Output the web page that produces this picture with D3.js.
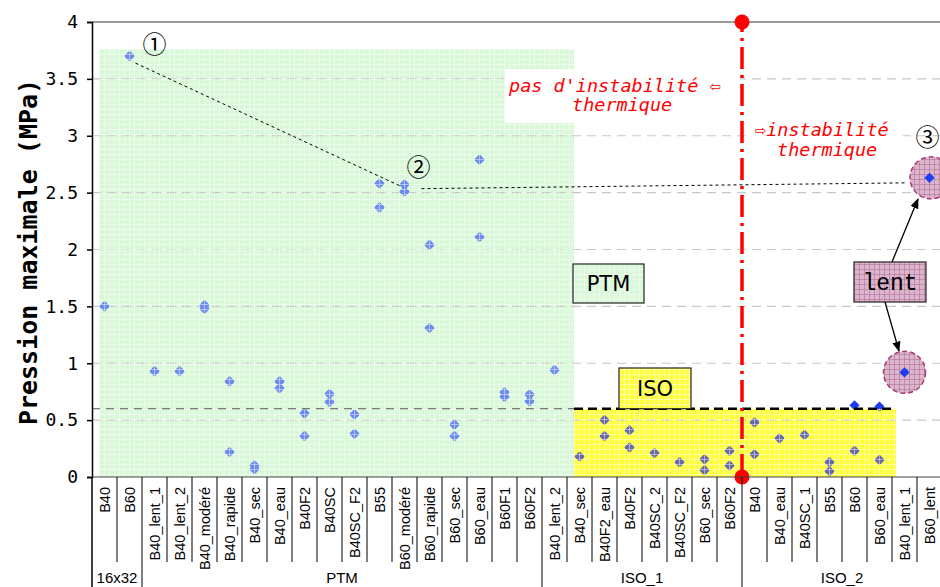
<!DOCTYPE html>
<html>
<head>
<meta charset="utf-8">
<script src="https://cdn.jsdelivr.net/npm/d3@7"></script>
<style>
  body { margin: 0; background: #fff; }
  svg { display: block; }
</style>
</head>
<body>
<div id="chart"></div>
<script>
// categories along the x axis (one column each)
const categories = [
  'B40', 'B60',
  'B40_lent_1', 'B40_lent_2', 'B40_modéré', 'B40_rapide', 'B40_sec', 'B40_eau',
  'B40F2', 'B40SC', 'B40SC_F2', 'B55', 'B60_modéré', 'B60_rapide', 'B60_sec',
  'B60_eau', 'B60F1', 'B60F2',
  'B40_lent_2', 'B40_sec', 'B40F2_eau', 'B40F2', 'B40SC_2', 'B40SC_F2', 'B60_sec', 'B60F2',
  'B40', 'B40_eau', 'B40SC_1', 'B55', 'B60', 'B60_eau', 'B40_lent_1', 'B60_lent'
]
const groupNames = ['16x32', 'PTM', 'ISO_1', 'ISO_2']
const groupSizes = [2, 16, 8, 8]

// maximal pressure (MPa), first and second test of each column
const pressureA = [
  1.50, 3.70,
  0.93, 0.93, 1.51, 0.84, 0.10, 0.84, 0.56, 0.73, 0.55, 2.58, 2.57, 2.04, 0.46, 2.79, 0.745, 0.725,
  0.94, 0.18, 0.50, 0.41, 0.21, 0.13, 0.155, 0.23,
  0.48, 0.34, 0.37, 0.13, 0.63, 0.62, 0.92, 2.63
]
const pressureB = [
  null, null,
  null, null, 1.48, 0.22, 0.07, 0.78, 0.36, 0.66, 0.38, 2.37, 2.51, 1.31, 0.36, 2.11, 0.705, 0.665,
  null, null, 0.36, 0.26, null, null, 0.06, 0.10,
  0.20, null, null, 0.05, 0.23, 0.15, null, null
]

const yTicks = [0, 0.5, 1, 1.5, 2, 2.5, 3, 3.5, 4]
const isoLimit = 0.6
const circled = [32, 33] // columns marked "lent"

const width = 940
const height = 587
const plot = { left: 92, right: 942, top: 22, bottom: 477 }

const svg = d3.select('#chart')
  .append('svg')
  .attr('width', width)
  .attr('height', height)

const x = d3.scaleBand()
  .domain(d3.range(categories.length))
  .range([plot.left, plot.right])
const y = d3.scaleLinear().domain([0, 4]).range([plot.bottom, plot.top])
const xc = (i) => x(i) + x.bandwidth() / 2

const points = []
categories.forEach((c, i) => {
  if (pressureA[i] !== null) points.push({ i, v: pressureA[i] })
  if (pressureB[i] !== null) points.push({ i, v: pressureB[i] })
})

// zones
const green = { x0: plot.left + 7, x1: x(19) + 7, y0: y(3.76), y1: y(0) }
const yellow = { x0: x(19) + 7, x1: x(32) + 4, y0: y(isoLimit), y1: y(0) }

const defs = svg.append('defs')
const gridPattern = (id, bg, line, op) => {
  const p = defs.append('pattern')
    .attr('id', id)
    .attr('width', 5)
    .attr('height', 5)
    .attr('patternUnits', 'userSpaceOnUse')
  if (bg) p.append('rect').attr('width', 5).attr('height', 5).attr('fill', bg)
  p.append('path')
    .attr('d', 'M4.5 0V5M0 4.5H5')
    .attr('stroke', line)
    .attr('stroke-opacity', op)
    .attr('fill', 'none')
}
gridPattern('gridWhite', null, '#fff', 0.45)
gridPattern('gridGreen', '#d8f8d8', '#fff', 0.45)
gridPattern('gridYellow', '#ffff3a', '#fff', 0.5)
gridPattern('gridPink', '#dcb4cc', '#a86890', 0.5)

const clip = (id, r) => defs.append('clipPath').attr('id', id)
  .append('rect')
  .attr('x', r.x0).attr('y', r.y0)
  .attr('width', r.x1 - r.x0).attr('height', r.y1 - r.y0)
clip('clipGreen', green)
clip('clipYellow', yellow)

defs.append('marker')
  .attr('id', 'arrow')
  .attr('viewBox', '0 0 10 10')
  .attr('refX', 9).attr('refY', 5)
  .attr('markerWidth', 8).attr('markerHeight', 8)
  .attr('orient', 'auto')
  .append('path')
  .attr('d', 'M0 1L10 5L0 9z')
  .attr('fill', '#000')

const zone = (r, fill) => svg.append('rect')
  .attr('x', r.x0).attr('y', r.y0)
  .attr('width', r.x1 - r.x0).attr('height', r.y1 - r.y0)
  .attr('fill', fill)
zone(green, '#d8f8d8')
zone(yellow, '#ffff3a')

// horizontal grid lines
svg.append('g')
  .selectAll('line')
  .data(yTicks.filter((d) => d > 0 && d < 4))
  .enter()
  .append('line')
  .attr('x1', plot.left).attr('x2', width)
  .attr('y1', (d) => y(d)).attr('y2', (d) => y(d))
  .attr('stroke', '#c8c8c8')
  .attr('stroke-width', 1.2)
  .attr('stroke-dasharray', '9,6')

svg.append('line')
  .attr('x1', plot.left).attr('x2', width)
  .attr('y1', y(4)).attr('y2', y(4))
  .attr('stroke', '#999')
  .attr('stroke-width', 2)

// white boxes behind the red notes
svg.append('rect').attr('x', 505).attr('y', 69).attr('width', 235).attr('height', 54).attr('fill', '#fff')
svg.append('rect').attr('x', 750).attr('y', 120).attr('width', 153).attr('height', 42).attr('fill', '#fff')

// pink circles around the slow tests
svg.append('g')
  .selectAll('circle')
  .data(circled)
  .enter()
  .append('circle')
  .attr('cx', (i) => xc(i) + (i === 33 ? 1.5 : 0))
  .attr('cy', (i) => y(pressureA[i]))
  .attr('r', 21)
  .attr('fill', 'url(#gridPink)')
  .attr('stroke', '#a83c74')
  .attr('stroke-width', 1.5)
  .attr('stroke-dasharray', '5,3')

// points: plain, then tinted inside each zone
const diamond = d3.symbol(d3.symbolSquare, 52)
const drawPoints = (fill, clipId) => {
  const g = svg.append('g')
  if (clipId) g.attr('clip-path', `url(#${clipId})`)
  g.selectAll('path')
    .data(points)
    .enter()
    .append('path')
    .attr('d', diamond)
    .attr('transform', (d) => `translate(${xc(d.i)},${y(d.v)}) rotate(45)`)
    .attr('fill', fill)
}
drawPoints('#1e3cf2', null)
drawPoints('#6c8cf0', 'clipGreen')
drawPoints('#6a6aa8', 'clipYellow')

// grid texture on top of the zones
zone(green, 'url(#gridWhite)')
zone(yellow, 'url(#gridWhite)')

// ISO limit line
svg.append('line')
  .attr('x1', plot.left).attr('x2', green.x1)
  .attr('y1', y(isoLimit)).attr('y2', y(isoLimit))
  .attr('stroke', '#555')
  .attr('stroke-width', 1.2)
  .attr('stroke-dasharray', '8,6')
svg.append('line')
  .attr('x1', yellow.x0).attr('x2', x(32))
  .attr('y1', y(isoLimit)).attr('y2', y(isoLimit))
  .attr('stroke', '#000')
  .attr('stroke-width', 2.5)
  .attr('stroke-dasharray', '9,5')

// red limit (thermal instability)
const redX = x(26)
svg.append('line')
  .attr('x1', redX).attr('x2', redX)
  .attr('y1', y(4)).attr('y2', y(0))
  .attr('stroke', '#ff0000')
  .attr('stroke-width', 3.5)
  .attr('stroke-dasharray', '22,6,3,6')
  .attr('stroke-dashoffset', 12)
svg.append('g')
  .selectAll('circle')
  .data([4, 0])
  .enter()
  .append('circle')
  .attr('cx', redX)
  .attr('cy', (d) => y(d))
  .attr('r', 7.5)
  .attr('fill', '#ff0000')

// y axis
const yAxis = svg.append('g')
  .attr('transform', `translate(${plot.left},0)`)
  .call(d3.axisLeft(y).tickValues(yTicks).tickSize(5).tickPadding(9).tickFormat((d) => String(d)))
yAxis.select('.domain').attr('stroke', '#000').attr('stroke-width', 1.5)
yAxis.selectAll('.tick line').attr('stroke', '#000').attr('stroke-width', 1.5)
yAxis.selectAll('.tick text')
  .attr('font-family', 'DejaVu Sans Mono')
  .attr('font-size', 18)
  .attr('fill', '#000')

svg.append('text')
  .attr('transform', 'translate(37,252) rotate(-90)')
  .attr('text-anchor', 'middle')
  .attr('font-family', 'DejaVu Sans Mono')
  .attr('font-weight', 'bold')
  .attr('font-size', 25)
  .text('Pression maximale (MPa)')

// category table under the plot
svg.append('line')
  .attr('x1', plot.left).attr('x2', width)
  .attr('y1', plot.bottom).attr('y2', plot.bottom)
  .attr('stroke', '#444')
  .attr('stroke-width', 1)

const groupStarts = groupSizes.map((s, k) => d3.sum(groupSizes.slice(0, k)))
svg.append('g')
  .selectAll('line')
  .data(d3.range(1, categories.length))
  .enter()
  .append('line')
  .attr('x1', (i) => x(i)).attr('x2', (i) => x(i))
  .attr('y1', plot.bottom)
  .attr('y2', (i) => groupStarts.includes(i) ? height : 562)
  .attr('stroke', '#000')
  .attr('stroke-width', 1)
svg.append('line')
  .attr('x1', plot.left).attr('x2', plot.left)
  .attr('y1', plot.bottom).attr('y2', height)
  .attr('stroke', '#000')
  .attr('stroke-width', 1.5)

svg.append('g')
  .selectAll('text')
  .data(categories)
  .enter()
  .append('text')
  .attr('transform', (d, i) => `translate(${xc(i) + 5.5},487) rotate(-90)`)
  .attr('text-anchor', 'end')
  .attr('font-family', 'Liberation Sans, Arial')
  .attr('font-size', 14.5)
  .text((d) => d)

svg.append('g')
  .selectAll('text')
  .data(groupNames)
  .enter()
  .append('text')
  .attr('x', (d, k) => x(groupStarts[k]) + groupSizes[k] * x.bandwidth() / 2)
  .attr('y', 583)
  .attr('text-anchor', 'middle')
  .attr('font-family', 'Liberation Sans, Arial')
  .attr('font-size', 15)
  .text((d) => d)

// connectors between the marked tests
const connector = (x1, y1, x2, y2) => svg.append('line')
  .attr('x1', x1).attr('y1', y1).attr('x2', x2).attr('y2', y2)
  .attr('stroke', '#000')
  .attr('stroke-width', 1)
  .attr('stroke-dasharray', '3,3')
connector(xc(1) + 6, y(pressureA[1]) + 7, xc(12) - 5, y(pressureA[12]) + 1)
connector(xc(12) + 17, y(pressureA[12]) + 4, xc(33) - 23, y(pressureA[33]) + 5)

const mark = (t, cx, cy) => svg.append('text')
  .attr('x', cx).attr('y', cy)
  .attr('text-anchor', 'middle')
  .attr('font-family', 'Noto Sans CJK JP, DejaVu Sans')
  .attr('font-size', 24)
  .text(t)
mark('①', xc(2), 53)
mark('②', xc(12) + 14, 176)
mark('③', xc(33) - 2, 146)

// red notes
const note = (t, tx, ty) => svg.append('text')
  .attr('x', tx).attr('y', ty)
  .attr('font-family', 'DejaVu Sans Mono')
  .attr('font-style', 'italic')
  .attr('font-size', 18.5)
  .attr('fill', '#ff0000')
  .text(t)
note("pas d'instabilité ⇦", 509, 92)
note('thermique', 572, 111)
note('⇨instabilité', 755, 136)
note('thermique', 777, 156)

// label boxes
const labelBox = (t, bx, by, bw, bh, fill, font, size) => {
  svg.append('rect')
    .attr('x', bx).attr('y', by).attr('width', bw).attr('height', bh)
    .attr('fill', fill)
    .attr('stroke', '#222')
    .attr('stroke-width', 1.2)
  svg.append('text')
    .attr('x', bx + bw / 2).attr('y', by + bh / 2 + size * 0.36)
    .attr('text-anchor', 'middle')
    .attr('font-family', font)
    .attr('font-size', size)
    .text(t)
}
labelBox('PTM', 573, 264, 71, 39, 'url(#gridGreen)', 'DejaVu Sans', 21)
labelBox('ISO', 619, 368, 72, y(isoLimit) - 368, 'url(#gridYellow)', 'DejaVu Sans', 21)
labelBox('lent', 854, 262, 72, 40, 'url(#gridPink)', 'Liberation Mono', 23)

// arrows from "lent" to both circles
const arrow = (x1, y1, x2, y2) => svg.append('line')
  .attr('x1', x1).attr('y1', y1).attr('x2', x2).attr('y2', y2)
  .attr('stroke', '#000')
  .attr('stroke-width', 1.3)
  .attr('marker-end', 'url(#arrow)')
arrow(892, 262, 918, 199)
arrow(885, 302, 899, 351)
</script>
</body>
</html>
